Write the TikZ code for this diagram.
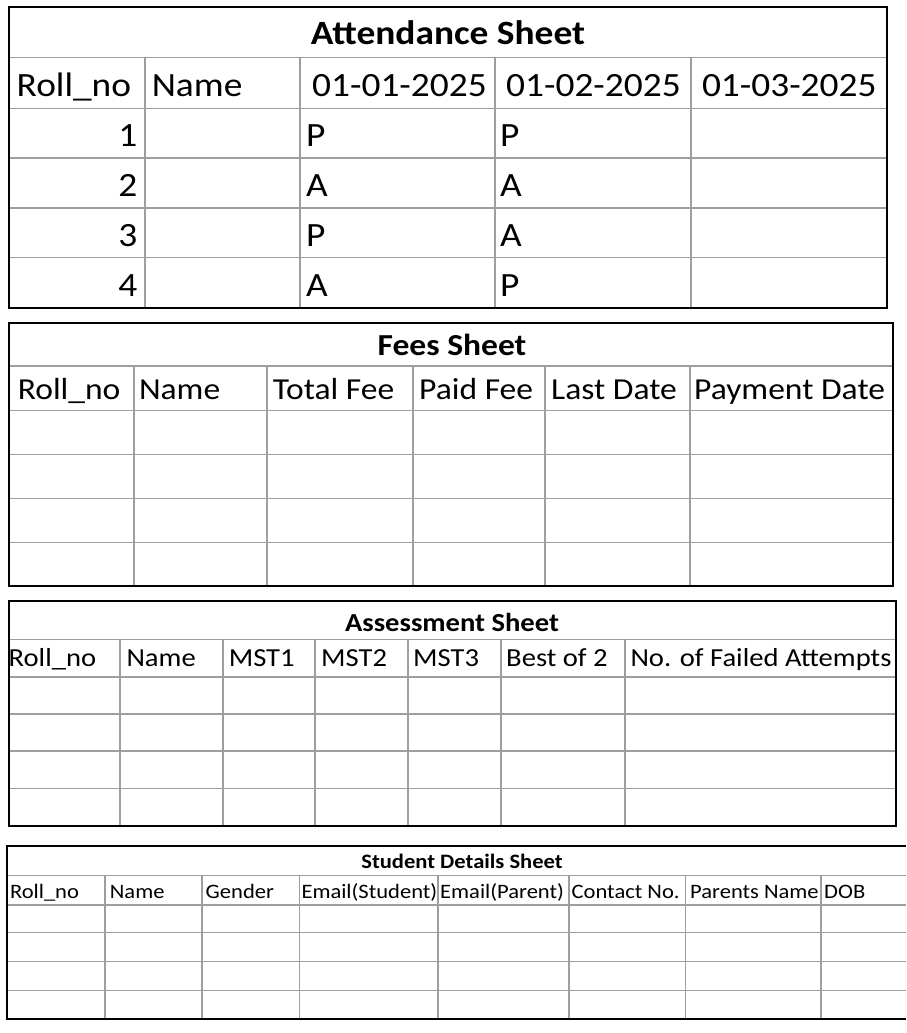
\documentclass[tikz,border=0pt]{standalone}
\usepackage{fontspec}
\setmainfont{Carlito}
\usepackage{graphicx}
\newcommand{\sx}[1]{\scalebox{1.1}[1]{#1}}
\tikzset{
  gridline/.style={draw=black!38, line width=1.2pt},
  frame/.style={draw=black, line width=2.6pt},
  lbl/.style={inner sep=0pt, anchor=base west},
  rlbl/.style={inner sep=0pt, anchor=base east},
  ttl/.style={inner sep=0pt, anchor=base},
  fa/.style={font=\fontsize{34}{40}\selectfont},
  fb/.style={font=\fontsize{30.5}{36}\selectfont},
  fc/.style={font=\fontsize{26}{31}\selectfont},
  fd/.style={font=\fontsize{20.5}{25}\selectfont},
}
\begin{document}
\begin{tikzpicture}[x=1pt,y=-1pt]
\useasboundingbox[fill=white] (0,0) rectangle (906,1033);

% ---------- Attendance Sheet ----------
\foreach \y in {57.8,108.2,158,208,257.6} \draw[gridline] (9,\y) -- (887,\y);
\foreach \x in {145,300,495,691} \draw[gridline] (\x,57.8) -- (\x,308);
\draw[frame] (9,7) rectangle (887,308);
\node[ttl,font=\fontsize{34}{40}\selectfont\bfseries] (a-title) at (448,45) {\sx{Attendance Sheet}};
\foreach \x/\t [count=\i] in {16.5/Roll\_no,151.6/Name,312/01-01-2025,506/01-02-2025,701.8/01-03-2025}
  \node[lbl,fa] (a-h\i) at (\x,96) {\sx{\t}};
\foreach \y/\n/\p/\q in {146/1/P/P,196/2/A/A,246/3/P/A,296/4/A/P}{
  \node[rlbl,fa] (a-r\n) at (137.5,\y) {\sx{\n}};
  \node[lbl,fa] (a-p\n) at (306,\y) {\sx{\p}};
  \node[lbl,fa] (a-q\n) at (500,\y) {\sx{\q}};
}

% ---------- Fees Sheet ----------
\foreach \y in {366,410.5,454.3,498.3,542.3} \draw[gridline] (9,\y) -- (893,\y);
\foreach \x in {134,267,413,545,690} \draw[gridline] (\x,366) -- (\x,586);
\draw[frame] (9,323) rectangle (893,586);
\node[ttl,font=\fontsize{30.5}{36}\selectfont\bfseries] (b-title) at (452,355.7) {\sx{Fees Sheet}};
\foreach \x/\t [count=\i] in {17.6/Roll\_no,138.8/Name,272.6/Total Fee,419/Paid Fee,551/Last Date,694/Payment Date}
  \node[lbl,fb] (b-h\i) at (\x,399.8) {\sx{\t}};

% ---------- Assessment Sheet ----------
\foreach \y in {639.3,677,714,751,788.3} \draw[gridline] (9,\y) -- (896,\y);
\foreach \x in {120,223,315,408,501,625} \draw[gridline] (\x,639.3) -- (\x,826);
\draw[frame] (9,601) rectangle (896,826);
\node[ttl,font=\fontsize{26}{31}\selectfont\bfseries] (c-title) at (452,631) {\sx{Assessment Sheet}};
\foreach \x/\t [count=\i] in {8.5/Roll\_no,126.3/Name,228.6/MST1,321/MST2,413/MST3,506/Best of 2,630.3/No. of Failed Attempts}
  \node[lbl,fc] (c-h\i) at (\x,666.7) {\sx{\t}};

% ---------- Student Details Sheet ----------
\foreach \y in {875.7,905,932.7,961.7,990.3} \draw[gridline] (7,\y) -- (906,\y);
\foreach \x in {105,202,299.4,438,569,685.6,821} \draw[gridline] (\x,875.7) -- (\x,1019);
\draw[frame] (906,846) -- (7,846) -- (7,1019) -- (906,1019);
\node[ttl,font=\fontsize{20.5}{25}\selectfont\bfseries] (d-title) at (462,868.3) {\sx{Student Details Sheet}};
\foreach \x/\t [count=\i] in {9.8/Roll\_no,109.7/Name,205.5/Gender,301.3/Email(Student),440/Email(Parent),571.5/Contact No.,690/Parents Name,824/DOB}
  \node[lbl,fd] (d-h\i) at (\x,898.3) {\sx{\t}};
\end{tikzpicture}
\end{document}
